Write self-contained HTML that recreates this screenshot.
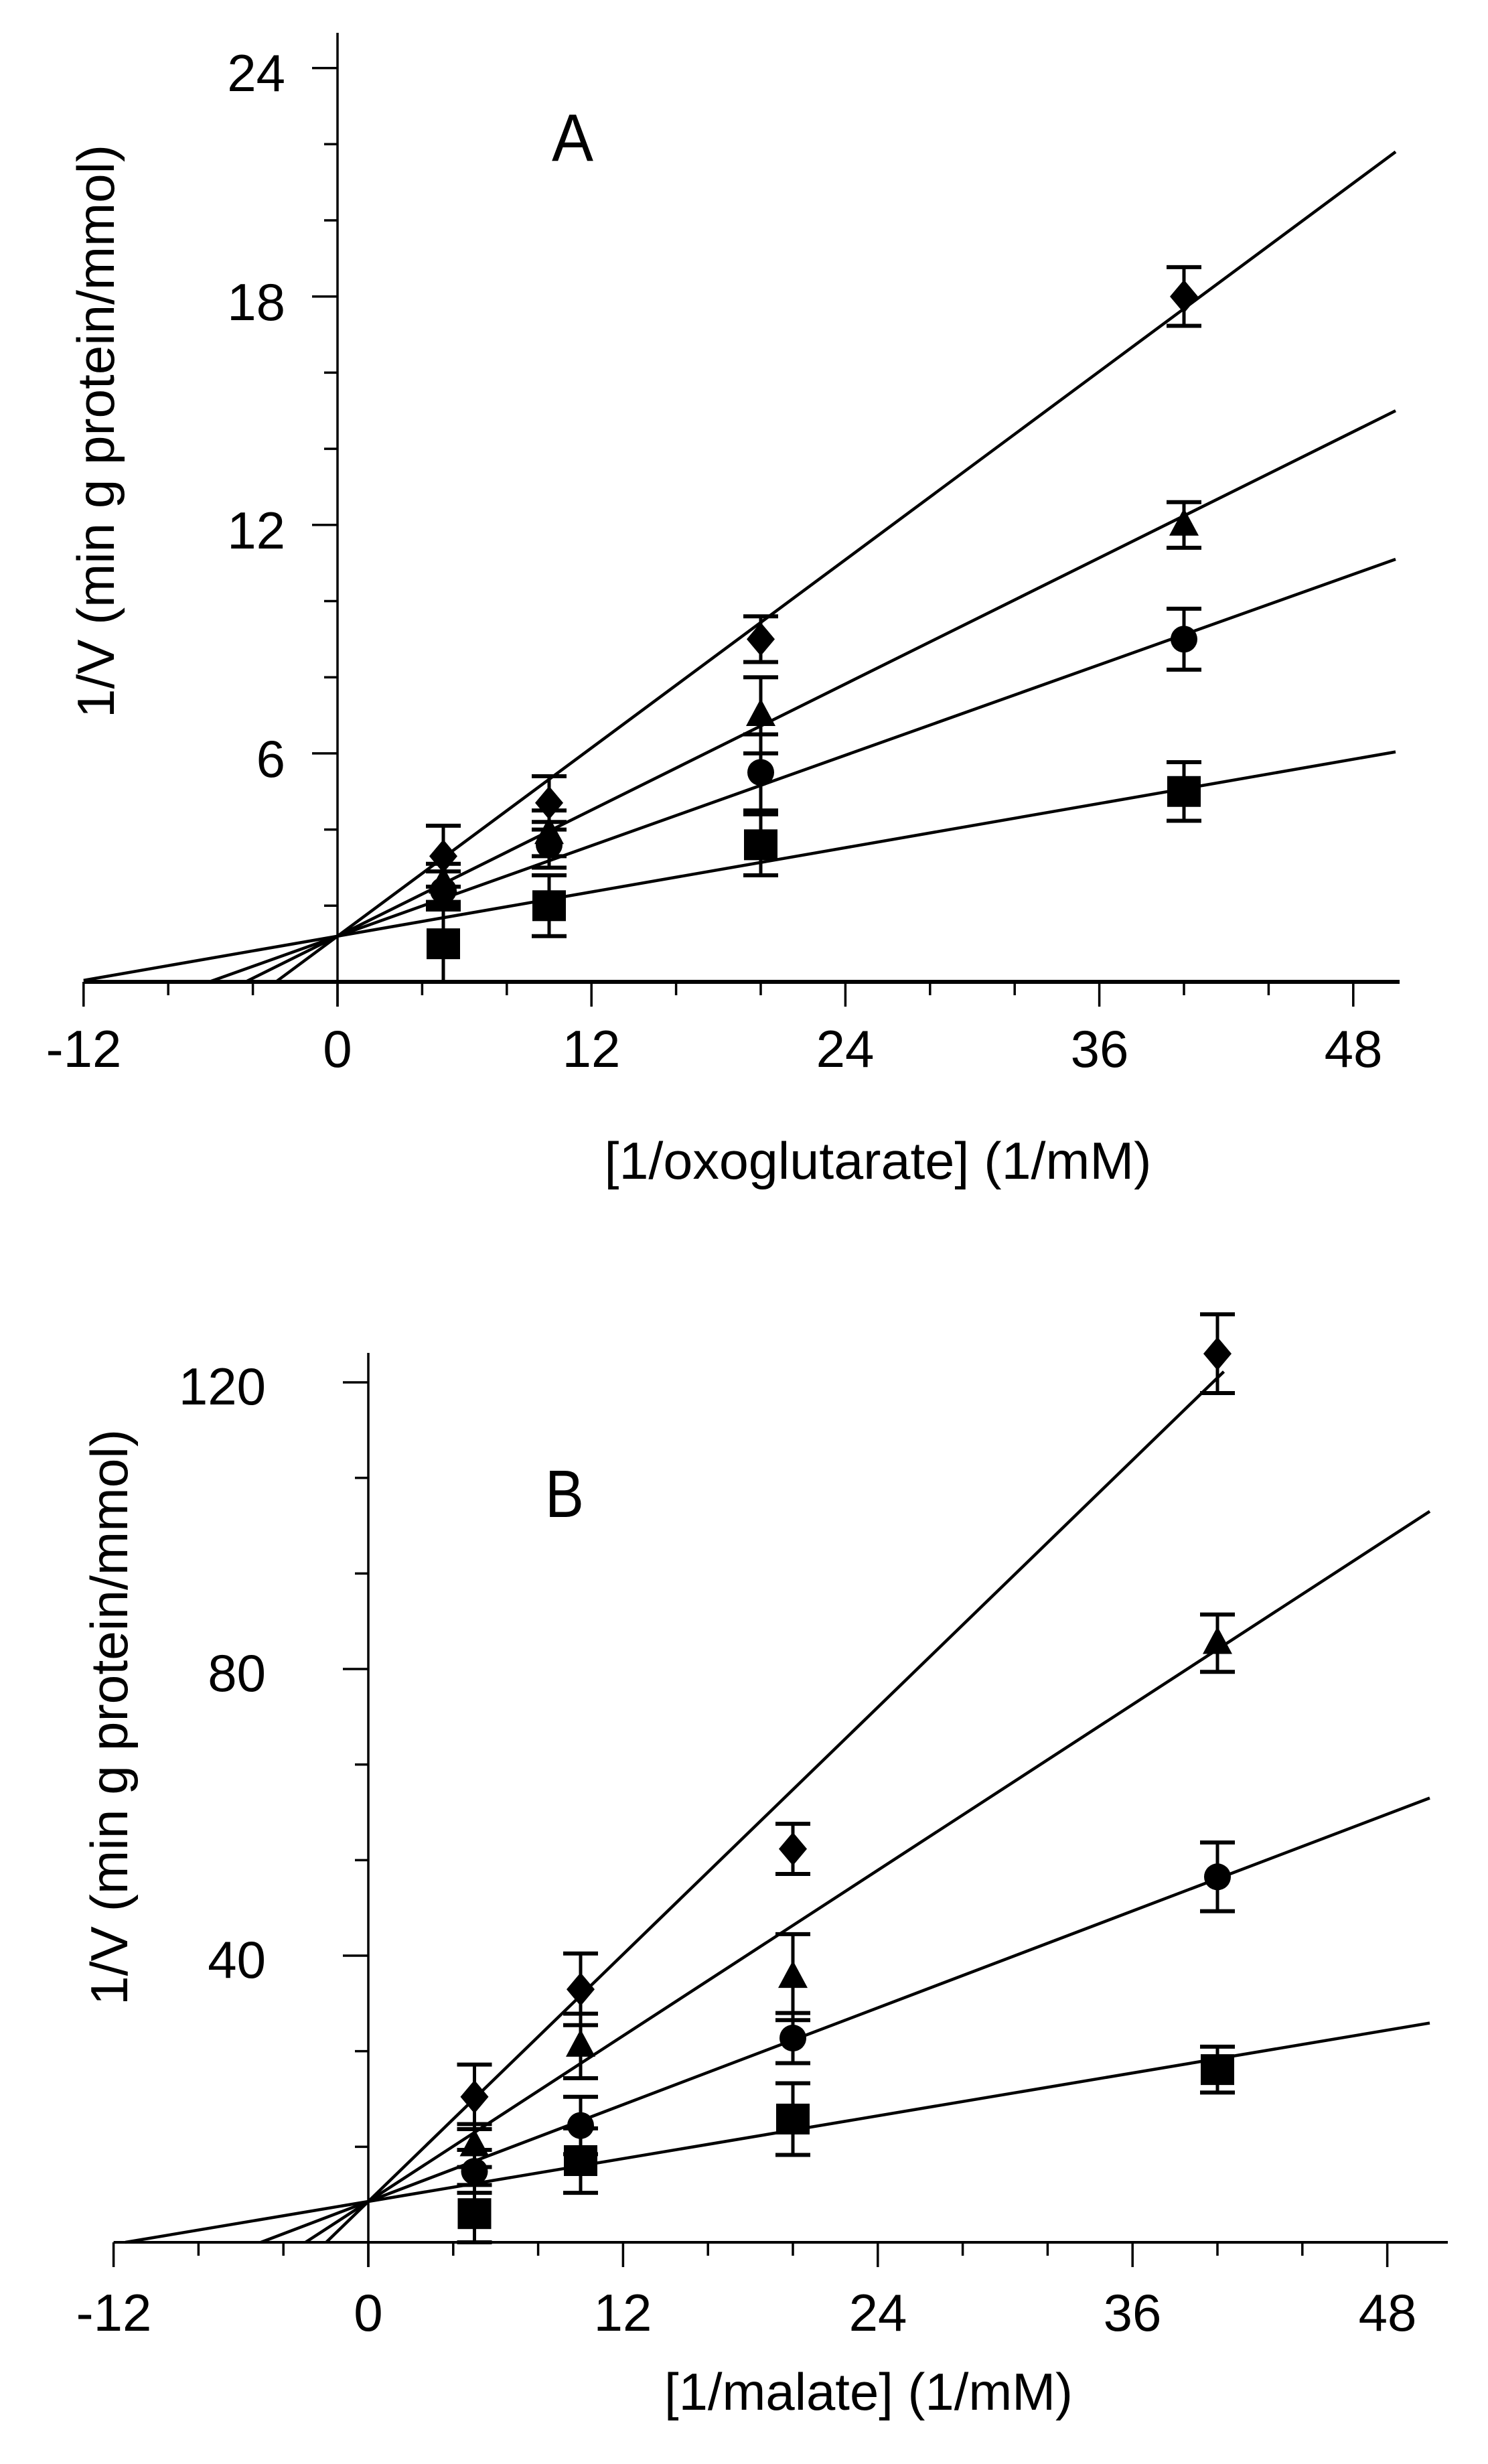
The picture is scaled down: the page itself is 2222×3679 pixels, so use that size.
<!DOCTYPE html>
<html><head><meta charset="utf-8"><style>
html,body{margin:0;padding:0;background:#fff;}
svg{display:block;}
text{font-family:"Liberation Sans",Arial,sans-serif;fill:#000;}
</style></head><body>
<svg id="s" width="2222" height="3679" viewBox="0 0 2222 3679" xmlns="http://www.w3.org/2000/svg">
<rect width="2222" height="3679" fill="#fff"/>
<g id="g"></g>
<g font-size="78">
<text x="426" y="136" text-anchor="end">24</text>
<text x="426" y="478" text-anchor="end">18</text>
<text x="426" y="819" text-anchor="end">12</text>
<text x="426" y="1160" text-anchor="end">6</text>
<text x="125" y="1593" text-anchor="middle">-12</text>
<text x="504" y="1593" text-anchor="middle">0</text>
<text x="883" y="1593" text-anchor="middle">12</text>
<text x="1262" y="1593" text-anchor="middle">24</text>
<text x="1642" y="1593" text-anchor="middle">36</text>
<text x="2021" y="1593" text-anchor="middle">48</text>
<text x="1311" y="1760" text-anchor="middle" textLength="817" lengthAdjust="spacingAndGlyphs">[1/oxoglutarate] (1/mM)</text>
<text transform="translate(170,644) rotate(-90)" text-anchor="middle" textLength="856" lengthAdjust="spacingAndGlyphs">1/V (min g protein/mmol)</text>
<text x="855" y="240" text-anchor="middle" font-size="100" textLength="62" lengthAdjust="spacingAndGlyphs">A</text>
</g>
<g font-size="78">
<text x="397" y="2097" text-anchor="end">120</text>
<text x="397" y="2525" text-anchor="end">80</text>
<text x="397" y="2953" text-anchor="end">40</text>
<text x="170" y="3480" text-anchor="middle">-12</text>
<text x="550" y="3480" text-anchor="middle">0</text>
<text x="930" y="3480" text-anchor="middle">12</text>
<text x="1311" y="3480" text-anchor="middle">24</text>
<text x="1691" y="3480" text-anchor="middle">36</text>
<text x="2072" y="3480" text-anchor="middle">48</text>
<text x="1297" y="3598" text-anchor="middle" textLength="610" lengthAdjust="spacingAndGlyphs">[1/malate] (1/mM)</text>
<text transform="translate(190,2564) rotate(-90)" text-anchor="middle" textLength="860" lengthAdjust="spacingAndGlyphs">1/V (min g protein/mmol)</text>
<text x="843" y="2265" text-anchor="middle" font-size="100" textLength="58" lengthAdjust="spacingAndGlyphs">B</text>
</g>
</svg>
<script>
(function(){
var g=document.getElementById('g'),NS='http://www.w3.org/2000/svg';
function el(t,a){var e=document.createElementNS(NS,t);for(var k in a)e.setAttribute(k,a[k]);g.appendChild(e);return e;}
function line(x1,y1,x2,y2,w){el('line',{x1:x1,y1:y1,x2:x2,y2:y2,stroke:'#000','stroke-width':w});}
function panel(P){
  var X=function(v){return P.x0+v*P.sx;},Y=function(v){return P.y0-v*P.sy;};
  line(P.x0,P.ytop,P.x0,P.y0+P.majL,3.5);
  line(X(-12),P.y0,P.xend,P.y0,P.xw);
  for(var v=-12;v<=48;v+=4){var maj=(v%12===0);line(X(v),P.y0,X(v),P.y0+(maj?P.majL:P.minL),3.5);}
  for(var i=1;i*P.ymin<=P.ymax+0.01;i++){var yv=i*P.ymin;var maj=Math.abs(yv/P.ymaj-Math.round(yv/P.ymaj))<0.01;line(P.x0-(maj?38:20),Y(yv),P.x0,Y(yv),3.5);}
  P.series.forEach(function(s){var xi=-P.b/s.m; if(xi<-12)xi=-12; line(X(xi),Y(P.b+s.m*xi),X(s.xe),Y(P.b+s.m*s.xe),4.5);});
  var xs=[5,10,20,40];
  P.series.forEach(function(s){
    xs.forEach(function(xv,i){
      var cx=X(xv),cy=Y(s.y[i]),e=s.e[i]*P.sy;
      line(cx,cy-e,cx,cy+e,5);line(cx-26,cy-e,cx+26,cy-e,6);line(cx-26,cy+e,cx+26,cy+e,6);
      if(s.t==='d')el('polygon',{points:(cx)+','+(cy-25)+' '+(cx+21)+','+cy+' '+cx+','+(cy+25)+' '+(cx-21)+','+cy,fill:'#000'});
      else if(s.t==='t')el('polygon',{points:cx+','+(cy-25)+' '+(cx+22)+','+(cy+16)+' '+(cx-22)+','+(cy+16),fill:'#000'});
      else if(s.t==='c')el('circle',{cx:cx,cy:cy,r:20,fill:'#000'});
      else el('rect',{x:cx-25,y:cy-23,width:50,height:46,fill:'#000'});
    });
  });
}
panel({x0:504,y0:1466,sx:31.6,sy:56.85,ytop:49,xend:2090,xw:6,majL:37,minL:20,ymin:2,ymaj:6,ymax:24,b:1.2,
 series:[
  {t:'d',m:(21.8-1.2)/50,xe:50,y:[3.3,4.7,9.0,18.0],e:[0.8,0.7,0.6,0.77]},
  {t:'t',m:(15.0-1.2)/50,xe:50,y:[2.6,3.9,7.0,12.0],e:[0.5,0.6,1.0,0.6]},
  {t:'c',m:(11.1-1.2)/50,xe:50,y:[2.4,3.6,5.5,9.0],e:[0.5,0.6,1.0,0.8]},
  {t:'s',m:(6.04-1.2)/50,xe:50,y:[1.0,2.0,3.6,5.0],e:[1.0,0.8,0.8,0.77]}
 ]});
panel({x0:550,y0:3348,sx:31.7,sy:10.7,ytop:2020,xend:2162,xw:4,majL:37,minL:20,ymin:40/3,ymaj:40,ymax:120,b:5.7,
 series:[
  {t:'d',m:(121.5-5.7)/40.3,xe:40.3,y:[20.3,35.3,54.9,124],e:[4.5,5,3.5,5.5]},
  {t:'t',m:(102-5.7)/50,xe:50,y:[13.5,27.4,37,83.6],e:[3,4.5,6,4]},
  {t:'c',m:(62-5.7)/50,xe:50,y:[9.9,16.3,28.5,51],e:[3,4,3.5,4.8]},
  {t:'s',m:(30.6-5.7)/50,xe:50,y:[4,11.4,17.2,24.1],e:[4,4.5,5,3.2]}
 ]});
})();
</script>
</body></html>
